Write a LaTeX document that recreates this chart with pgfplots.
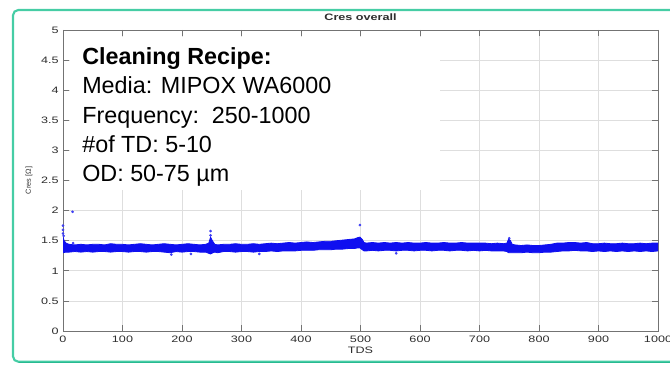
\documentclass[border=0pt]{standalone}
\usepackage{fontspec}
\setmainfont{Liberation Sans}
\newfontfamily\mlfont[FakeStretch=1.35]{Liberation Sans}
\usepackage{pgfplots}
\pgfplotsset{compat=1.18}
\usepgfplotslibrary{fillbetween}
\usepackage{pgfplotstable}

\definecolor{bordercol}{RGB}{70,205,165}
\definecolor{bordercoldark}{RGB}{40,185,145}
\definecolor{gridcol}{RGB}{222,222,222}
\definecolor{framecol}{RGB}{115,115,115}
\definecolor{labcol}{RGB}{45,45,45}
\definecolor{datablue}{RGB}{15,15,240}

% upper envelope of the dense Cres scatter band
\pgfplotstableread{
x y
0 1.56
2 1.50
5 1.46
10 1.44
20 1.43
30 1.44
40 1.43
50 1.44
60 1.44
70 1.43
80 1.45
90 1.44
100 1.44
110 1.43
120 1.44
130 1.45
140 1.44
150 1.43
160 1.44
170 1.45
180 1.44
190 1.43
200 1.44
210 1.45
220 1.44
230 1.43
240 1.44
245 1.46
248 1.56
251 1.50
255 1.44
260 1.43
270 1.44
280 1.44
290 1.45
300 1.44
310 1.44
320 1.45
330 1.44
340 1.45
350 1.46
360 1.45
370 1.46
380 1.47
390 1.46
400 1.47
410 1.48
420 1.47
430 1.48
440 1.49
450 1.49
460 1.50
470 1.51
480 1.52
490 1.53
495 1.55
499 1.56
503 1.52
506 1.47
510 1.46
520 1.47
530 1.46
540 1.47
550 1.46
560 1.47
570 1.46
580 1.47
590 1.46
600 1.46
610 1.47
620 1.46
630 1.46
640 1.47
650 1.46
660 1.46
670 1.47
680 1.46
690 1.46
700 1.46
710 1.46
720 1.45
730 1.46
740 1.45
746 1.46
749 1.53
752 1.50
755 1.44
760 1.43
770 1.42
780 1.43
790 1.42
800 1.42
810 1.43
820 1.44
830 1.46
840 1.46
850 1.47
860 1.47
870 1.46
880 1.47
890 1.45
900 1.45
910 1.46
920 1.45
930 1.45
940 1.46
950 1.45
960 1.45
970 1.46
980 1.45
990 1.46
1000 1.46
}\upperband

% lower envelope of the band
\pgfplotstableread{
x y
0 1.30
5 1.31
10 1.31
20 1.32
30 1.31
40 1.32
50 1.31
60 1.32
70 1.32
80 1.31
90 1.32
100 1.32
110 1.31
120 1.32
130 1.32
140 1.31
150 1.32
160 1.32
170 1.31
180 1.30
190 1.32
200 1.31
210 1.32
220 1.32
230 1.31
240 1.31
245 1.29
248 1.28
252 1.30
255 1.31
260 1.30
270 1.32
280 1.32
290 1.31
300 1.32
310 1.32
320 1.31
330 1.32
340 1.32
350 1.33
360 1.32
370 1.33
380 1.33
390 1.33
400 1.34
410 1.34
420 1.34
430 1.35
440 1.35
450 1.35
460 1.36
470 1.36
480 1.37
490 1.37
495 1.38
499 1.38
503 1.35
506 1.33
510 1.33
520 1.34
530 1.33
540 1.34
550 1.34
560 1.33
570 1.34
580 1.34
590 1.33
600 1.34
610 1.34
620 1.33
630 1.34
640 1.34
650 1.33
660 1.34
670 1.34
680 1.33
690 1.34
700 1.33
710 1.34
720 1.33
730 1.33
740 1.33
746 1.32
749 1.30
752 1.30
760 1.30
770 1.30
780 1.31
790 1.30
800 1.30
810 1.31
820 1.31
830 1.32
840 1.33
850 1.33
860 1.34
870 1.33
880 1.33
890 1.32
900 1.33
910 1.32
920 1.33
930 1.32
940 1.33
950 1.32
960 1.33
970 1.32
980 1.33
990 1.32
1000 1.33
}\lowerband

% isolated outlier points
\pgfplotstableread{
x y
0 1.75
0 1.68
0 1.62
1 1.58
16 1.98
17 1.46
248 1.66
248 1.59
499 1.76
750 1.54
182 1.27
215 1.28
330 1.28
560 1.29
}\outliers

\begin{document}
\begin{tikzpicture}
\begin{axis}[
  at={(47.25pt,26.25pt)}, anchor=south west,
  scale only axis, width=446.25pt, height=225.75pt,
  xmin=0, xmax=1000, ymin=0, ymax=5,
  xtick={0,100,...,1000},
  ytick={0,0.5,1,1.5,2,2.5,3,3.5,4,4.5,5},
  scaled ticks=false,
  /pgf/number format/1000 sep={},
  /pgf/number format/assume math mode=true,
  tick align=inside,
  major tick length=4.5pt,
  tick style={framecol, line width=0.5pt},
  axis line style={framecol, line width=0.6pt},
  grid=major,
  major grid style={gridcol, line width=0.5pt},
  tick label style={font=\mlfont\fontsize{7}{8}\selectfont, text=labcol},
  xticklabel style={inner sep=0pt, anchor=north, yshift=-3.5pt},
  yticklabel style={inner sep=0pt, anchor=east, xshift=-3pt},
  title={\bfseries Cres overall},
  title style={font=\mlfont\fontsize{7}{8}\selectfont, text=labcol, inner sep=0pt, anchor=south, yshift=0.5pt},
  xlabel={TDS},
  xlabel style={at={(axis description cs:0.5,0)}, anchor=north, inner sep=0pt, yshift=-12pt, font=\mlfont\fontsize{7}{8}\selectfont, text=labcol},
  ylabel={Cres [Ω]},
  ylabel style={at={(axis description cs:-0.0571,0.5)}, anchor=center, inner sep=0pt, font=\fontsize{5.5}{6}\selectfont, text=labcol},
]
% white panel carrying the recipe text
\fill[white] (axis cs:12,2.35) rectangle (axis cs:634,4.88);

\addplot[name path=U, draw=datablue, line width=0.6pt] table[x=x,y=y] {\upperband};
\addplot[name path=L, draw=datablue, line width=0.6pt] table[x=x,y=y] {\lowerband};
\addplot[datablue] fill between[of=U and L];
\addplot[only marks, mark=*, mark size=0.8pt, datablue!80] table[x=x,y=y] {\outliers};

\node[anchor=base west, inner sep=0pt, font=\fontsize{17.5}{20}\selectfont\bfseries] at (axis cs:32,4.433) {Cleaning Recipe:};
\node[anchor=base west, inner sep=0pt, font=\fontsize{17.5}{20}\selectfont] at (axis cs:32,3.942) {Media: MIPOX WA6000};
\node[anchor=base west, inner sep=0pt, font=\fontsize{17.5}{20}\selectfont] at (axis cs:32,3.45) {Frequency:\ \ 250-1000};
\node[anchor=base west, inner sep=0pt, font=\fontsize{17.5}{20}\selectfont] at (axis cs:32,2.958) {\#of TD: 5-10};
\node[anchor=base west, inner sep=0pt, font=\fontsize{17.5}{20}\selectfont] at (axis cs:32,2.475) {OD: 50-75 µm};
\end{axis}
% teal frame around the slide panel (right side runs off the image)
\draw[bordercol, line width=1.6pt, rounded corners=4pt] (505pt,267pt) -- (9.75pt,267pt) -- (9.75pt,3.2pt) -- (505pt,3.2pt);
\draw[bordercoldark, line width=1.4pt] (14pt,2.6pt) -- (505pt,2.6pt);
\pgfresetboundingbox
\useasboundingbox (0,0) rectangle (502.5pt,274.5pt);
\end{tikzpicture}
\end{document}
